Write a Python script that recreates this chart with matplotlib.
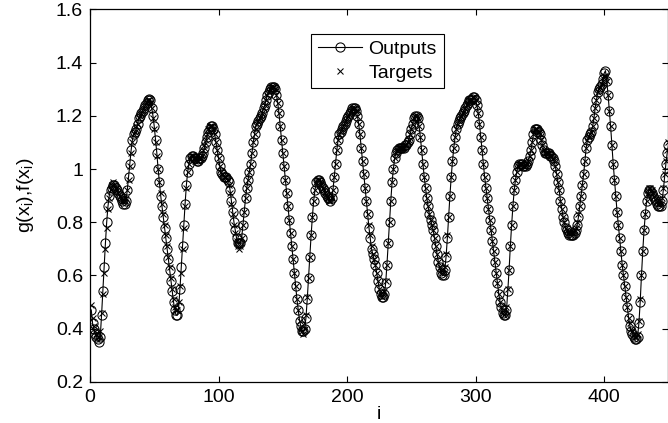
import matplotlib
matplotlib.use("Agg")
import matplotlib.pyplot as plt
import numpy as np
from matplotlib.ticker import FormatStrFormatter

plt.rcParams['font.family'] = ['Liberation Sans', 'DejaVu Sans']
plt.rcParams['mathtext.fontset'] = 'custom'
plt.rcParams['mathtext.rm'] = 'Liberation Sans'
plt.rcParams['mathtext.it'] = 'Liberation Sans'

# network outputs g(x_i) (i = 1..450)
outputs = [
    0.47, 0.42, 0.40, 0.38, 0.37, 0.36, 0.35, 0.37, 0.45, 0.54,
    0.63, 0.72, 0.80, 0.86, 0.90, 0.92, 0.93, 0.94, 0.94, 0.93,
    0.92, 0.91, 0.90, 0.89, 0.88, 0.87, 0.87, 0.88, 0.92, 0.97,
    1.02, 1.07, 1.11, 1.13, 1.14, 1.15, 1.17, 1.19, 1.20, 1.21,
    1.22, 1.23, 1.24, 1.25, 1.26, 1.265, 1.26, 1.23, 1.20, 1.16,
    1.11, 1.06, 1.00, 0.95, 0.90, 0.86, 0.82, 0.78, 0.74, 0.70,
    0.66, 0.62, 0.58, 0.54, 0.50, 0.47, 0.45, 0.45, 0.48, 0.55,
    0.63, 0.71, 0.79, 0.87, 0.94, 0.99, 1.02, 1.04, 1.05, 1.05,
    1.04, 1.04, 1.03, 1.03, 1.04, 1.04, 1.05, 1.06, 1.08, 1.10,
    1.12, 1.14, 1.15, 1.16, 1.16, 1.15, 1.13, 1.10, 1.07, 1.04,
    1.01, 0.99, 0.98, 0.97, 0.97, 0.97, 0.96, 0.95, 0.92, 0.88,
    0.84, 0.80, 0.77, 0.74, 0.72, 0.72, 0.72, 0.74, 0.79, 0.84,
    0.89, 0.93, 0.96, 0.99, 1.02, 1.06, 1.10, 1.13, 1.16, 1.17,
    1.18, 1.19, 1.20, 1.21, 1.23, 1.24, 1.26, 1.28, 1.29, 1.30,
    1.31, 1.31, 1.31, 1.30, 1.28, 1.25, 1.21, 1.16, 1.11, 1.06,
    1.01, 0.96, 0.91, 0.86, 0.81, 0.76, 0.71, 0.66, 0.61, 0.56,
    0.51, 0.47, 0.43, 0.41, 0.39, 0.39, 0.40, 0.44, 0.51, 0.59,
    0.67, 0.75, 0.82, 0.88, 0.92, 0.95, 0.96, 0.96, 0.95, 0.94,
    0.93, 0.92, 0.91, 0.90, 0.89, 0.89, 0.88, 0.89, 0.92, 0.97,
    1.02, 1.07, 1.11, 1.13, 1.14, 1.15, 1.16, 1.17, 1.18, 1.19,
    1.20, 1.21, 1.22, 1.23, 1.23, 1.23, 1.22, 1.20, 1.17, 1.13,
    1.08, 1.03, 0.98, 0.93, 0.88, 0.83, 0.78, 0.74, 0.70, 0.68,
    0.66, 0.64, 0.61, 0.58, 0.55, 0.53, 0.52, 0.52, 0.53, 0.57,
    0.64, 0.72, 0.80, 0.88, 0.95, 1.00, 1.04, 1.06, 1.07, 1.08,
    1.08, 1.08, 1.08, 1.08, 1.09, 1.09, 1.10, 1.11, 1.13, 1.15,
    1.17, 1.19, 1.20, 1.20, 1.19, 1.16, 1.12, 1.07, 1.02, 0.97,
    0.93, 0.89, 0.86, 0.83, 0.81, 0.79, 0.77, 0.74, 0.71, 0.68,
    0.65, 0.63, 0.61, 0.60, 0.60, 0.62, 0.67, 0.74, 0.82, 0.90,
    0.97, 1.03, 1.08, 1.12, 1.15, 1.17, 1.18, 1.19, 1.20, 1.21,
    1.22, 1.23, 1.24, 1.25, 1.26, 1.26, 1.265, 1.27, 1.27, 1.26,
    1.24, 1.21, 1.17, 1.12, 1.07, 1.02, 0.97, 0.93, 0.89, 0.85,
    0.81, 0.77, 0.73, 0.69, 0.65, 0.61, 0.57, 0.53, 0.50, 0.48,
    0.46, 0.45, 0.45, 0.47, 0.54, 0.62, 0.71, 0.79, 0.86, 0.92,
    0.96, 0.99, 1.01, 1.02, 1.02, 1.02, 1.01, 1.01, 1.01, 1.02,
    1.03, 1.05, 1.07, 1.10, 1.13, 1.15, 1.15, 1.15, 1.14, 1.13,
    1.11, 1.09, 1.07, 1.06, 1.06, 1.06, 1.06, 1.05, 1.05, 1.04,
    1.03, 1.01, 0.98, 0.95, 0.92, 0.88, 0.85, 0.82, 0.80, 0.78,
    0.77, 0.76, 0.75, 0.75, 0.75, 0.75, 0.76, 0.77, 0.79, 0.82,
    0.86, 0.90, 0.94, 0.98, 1.03, 1.08, 1.11, 1.12, 1.13, 1.14,
    1.16, 1.19, 1.23, 1.26, 1.29, 1.30, 1.31, 1.32, 1.34, 1.36,
    1.37, 1.33, 1.28, 1.22, 1.16, 1.09, 1.02, 0.96, 0.90, 0.84,
    0.79, 0.74, 0.69, 0.64, 0.60, 0.56, 0.52, 0.48, 0.44, 0.41,
    0.39, 0.38, 0.37, 0.36, 0.36, 0.37, 0.42, 0.50, 0.60, 0.69,
    0.77, 0.83, 0.88, 0.91, 0.92, 0.92, 0.91, 0.90, 0.89, 0.88,
    0.87, 0.86, 0.86, 0.86, 0.88, 0.92, 0.97, 1.02, 1.06, 1.09,
]

# targets f(x_i)
targets = [
    0.49, 0.44, 0.41, 0.39, 0.38, 0.37, 0.37, 0.39, 0.46, 0.53,
    0.61, 0.70, 0.78, 0.85, 0.89, 0.92, 0.94, 0.95, 0.94, 0.93,
    0.92, 0.91, 0.90, 0.89, 0.88, 0.88, 0.88, 0.89, 0.92, 0.96,
    1.01, 1.06, 1.10, 1.13, 1.14, 1.16, 1.17, 1.19, 1.20, 1.21,
    1.22, 1.23, 1.24, 1.25, 1.26, 1.26, 1.25, 1.23, 1.19, 1.15,
    1.10, 1.05, 1.00, 0.95, 0.91, 0.87, 0.83, 0.79, 0.75, 0.71,
    0.67, 0.63, 0.59, 0.55, 0.51, 0.48, 0.47, 0.47, 0.50, 0.56,
    0.61, 0.70, 0.78, 0.86, 0.93, 0.99, 1.02, 1.04, 1.05, 1.05,
    1.04, 1.03, 1.03, 1.03, 1.04, 1.04, 1.05, 1.07, 1.09, 1.11,
    1.13, 1.15, 1.16, 1.16, 1.16, 1.15, 1.13, 1.10, 1.07, 1.04,
    1.01, 0.99, 0.98, 0.97, 0.97, 0.97, 0.96, 0.94, 0.91, 0.87,
    0.83, 0.79, 0.76, 0.73, 0.71, 0.70, 0.71, 0.74, 0.79, 0.84,
    0.89, 0.93, 0.96, 0.99, 1.02, 1.06, 1.10, 1.13, 1.15, 1.17,
    1.18, 1.19, 1.20, 1.21, 1.23, 1.24, 1.26, 1.28, 1.29, 1.30,
    1.31, 1.31, 1.31, 1.30, 1.28, 1.25, 1.21, 1.16, 1.11, 1.06,
    1.01, 0.96, 0.91, 0.86, 0.81, 0.76, 0.71, 0.66, 0.61, 0.56,
    0.51, 0.47, 0.43, 0.40, 0.39, 0.38, 0.40, 0.45, 0.52, 0.59,
    0.67, 0.75, 0.82, 0.88, 0.92, 0.95, 0.96, 0.96, 0.95, 0.94,
    0.93, 0.92, 0.91, 0.90, 0.89, 0.88, 0.88, 0.89, 0.92, 0.97,
    1.02, 1.07, 1.11, 1.13, 1.14, 1.15, 1.16, 1.17, 1.18, 1.19,
    1.20, 1.21, 1.22, 1.23, 1.23, 1.23, 1.22, 1.20, 1.17, 1.13,
    1.08, 1.03, 0.98, 0.93, 0.88, 0.83, 0.79, 0.75, 0.71, 0.68,
    0.66, 0.64, 0.61, 0.58, 0.55, 0.53, 0.52, 0.53, 0.54, 0.58,
    0.64, 0.72, 0.80, 0.88, 0.95, 1.00, 1.04, 1.06, 1.07, 1.08,
    1.08, 1.08, 1.08, 1.08, 1.09, 1.09, 1.10, 1.11, 1.13, 1.15,
    1.17, 1.19, 1.20, 1.20, 1.19, 1.16, 1.12, 1.07, 1.02, 0.97,
    0.93, 0.89, 0.86, 0.83, 0.81, 0.79, 0.77, 0.74, 0.71, 0.68,
    0.65, 0.63, 0.62, 0.61, 0.61, 0.63, 0.68, 0.75, 0.82, 0.90,
    0.97, 1.03, 1.08, 1.12, 1.15, 1.17, 1.18, 1.19, 1.20, 1.21,
    1.22, 1.23, 1.24, 1.25, 1.26, 1.26, 1.26, 1.27, 1.27, 1.26,
    1.24, 1.21, 1.17, 1.12, 1.07, 1.02, 0.97, 0.93, 0.89, 0.85,
    0.81, 0.77, 0.73, 0.69, 0.65, 0.61, 0.57, 0.53, 0.50, 0.48,
    0.46, 0.45, 0.46, 0.48, 0.55, 0.62, 0.71, 0.79, 0.86, 0.92,
    0.96, 0.99, 1.01, 1.02, 1.02, 1.02, 1.01, 1.01, 1.01, 1.02,
    1.03, 1.05, 1.07, 1.10, 1.13, 1.15, 1.15, 1.15, 1.14, 1.13,
    1.11, 1.09, 1.07, 1.06, 1.06, 1.06, 1.06, 1.05, 1.05, 1.04,
    1.03, 1.01, 0.98, 0.95, 0.92, 0.88, 0.85, 0.82, 0.80, 0.78,
    0.77, 0.76, 0.76, 0.76, 0.76, 0.76, 0.77, 0.78, 0.80, 0.83,
    0.86, 0.90, 0.94, 0.98, 1.03, 1.08, 1.11, 1.12, 1.13, 1.14,
    1.16, 1.19, 1.23, 1.26, 1.29, 1.30, 1.31, 1.32, 1.33, 1.35,
    1.35, 1.33, 1.28, 1.22, 1.16, 1.09, 1.02, 0.96, 0.90, 0.84,
    0.79, 0.74, 0.69, 0.64, 0.60, 0.56, 0.52, 0.48, 0.44, 0.42,
    0.40, 0.39, 0.38, 0.37, 0.37, 0.38, 0.43, 0.51, 0.60, 0.69,
    0.77, 0.83, 0.88, 0.91, 0.93, 0.93, 0.92, 0.91, 0.90, 0.89,
    0.88, 0.87, 0.87, 0.87, 0.89, 0.93, 0.98, 1.03, 1.07, 1.10,
]

xticks = [0, 100, 200, 300, 400]
yticks = [0.2, 0.4, 0.6, 0.8, 1.0, 1.2, 1.4, 1.6]

i = np.arange(1, len(outputs) + 1)

fig = plt.figure(figsize=(6.68, 4.23), dpi=100)
ax = fig.add_axes([0.1347, 0.0976, 0.866, 0.88])

ax.plot(i, outputs, '-o', color='black', lw=0.8, ms=6.6, mfc='none',
        mew=0.75, label='Outputs')
ax.plot(i, targets, 'x', color='black', ms=4.8, mew=0.75, label='Targets')

ax.set_xlim(0, 450)
ax.set_ylim(0.2, 1.6)
ax.set_xticks(xticks)
ax.set_yticks(yticks)
ax.yaxis.set_major_formatter(FormatStrFormatter('%g'))
ax.tick_params(direction='in', length=4, width=0.8, top=True, right=True,
               labelsize=14, pad=5)
for s in ax.spines.values():
    s.set_linewidth(0.9)

ax.set_xlabel('i', fontsize=14, labelpad=0)
ax.set_ylabel('g(x$_\\mathregular{i}$),f(x$_\\mathregular{i}$)', fontsize=14,
              labelpad=14)

leg = ax.legend(loc='upper left', bbox_to_anchor=(0.382, 0.935), fontsize=14,
                fancybox=False, edgecolor='black', framealpha=1,
                handlelength=2.3, handletextpad=0.3, borderpad=0.35,
                labelspacing=0.3, borderaxespad=0)
leg.get_frame().set_linewidth(0.8)

fig.savefig('out.png', dpi=100)
